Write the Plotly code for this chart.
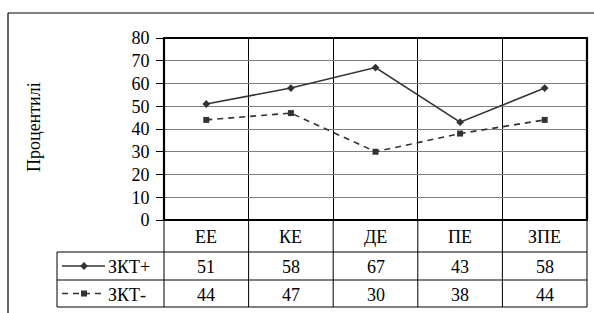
import plotly.graph_objects as go

categories = ["ЕЕ", "КЕ", "ДЕ", "ПЕ", "ЗПЕ"]
series_names = ["ЗКТ+", "ЗКТ-"]
zkt_plus = [51, 58, 67, 43, 58]
zkt_minus = [44, 47, 30, 38, 44]
y_ticks = [0, 10, 20, 30, 40, 50, 60, 70, 80]
y_title = "Процентилі"

W, H = 594, 313
FONT = "'Liberation Serif', 'Times New Roman', serif"
FS = 18
INK = "#333333"

# layout in pixels
PX_L, PX_R, PX_T, PX_B = 164, 587, 38, 220
ROW1, ROW2, ROW3 = 252, 280, 307
LEG_L = 57

def fx(px):
    return px / W

def fy(py):
    return 1 - py / H

xs = list(range(len(categories)))
fig = go.Figure()

styles = [
    dict(dash="solid", symbol="diamond", size=6),
    dict(dash="6px,5px", symbol="square", size=6),
]
for name, vals, st in zip(series_names, [zkt_plus, zkt_minus], styles):
    fig.add_trace(go.Scatter(
        x=xs, y=vals, mode="lines+markers", name=name,
        line=dict(color=INK, width=1.6, dash=st["dash"]),
        marker=dict(symbol=st["symbol"], size=st["size"], color=INK),
        showlegend=False, cliponaxis=False,
    ))

def text(px, py, s, xanchor="center", angle=0):
    fig.add_annotation(x=fx(px), y=fy(py), xref="paper", yref="paper", text=s,
                       showarrow=False, xanchor=xanchor, yanchor="middle", textangle=angle,
                       font=dict(family=FONT, size=FS, color="black"))

# legend keys inside the data table (pixel axes covering whole paper)
for i, (name, st) in enumerate(zip(series_names, styles)):
    yc = (ROW1 + ROW2) / 2 if i == 0 else (ROW2 + ROW3) / 2
    fig.add_trace(go.Scatter(
        x=[62, 84, 105], y=[yc, yc, yc], mode="lines", xaxis="x2", yaxis="y2",
        line=dict(color=INK, width=1.6, dash=st["dash"]), showlegend=False, hoverinfo="skip",
    ))
    fig.add_trace(go.Scatter(
        x=[84], y=[yc], mode="markers", xaxis="x2", yaxis="y2",
        marker=dict(symbol=st["symbol"], size=st["size"], color=INK), showlegend=False, hoverinfo="skip",
    ))
    text(106, yc + 1, name, xanchor="left")

n = len(categories)
boundaries = [i - 0.5 for i in range(n + 1)]

fig.update_layout(
    width=W, height=H, margin=dict(l=0, r=0, t=0, b=0, pad=0),
    paper_bgcolor="white", plot_bgcolor="rgba(0,0,0,0)",
    font=dict(family=FONT, size=FS, color="black"),
    xaxis=dict(domain=[fx(PX_L), fx(PX_R)], range=[-0.5, n - 0.5],
               tickvals=boundaries, ticktext=[""] * (n + 1), ticks="",
               showgrid=True, gridcolor="black", gridwidth=1, automargin=False,
               showline=False, zeroline=False, fixedrange=True, anchor="y"),
    yaxis=dict(domain=[fy(PX_B), fy(PX_T)], range=[0, 80], tickvals=y_ticks,
               ticks="outside", ticklen=7, tickcolor="black", tickwidth=1,
               ticklabelstandoff=3,
               showgrid=True, gridcolor="#7f7f7f", gridwidth=1, automargin=False,
               showline=False, zeroline=False, fixedrange=True, anchor="x",
               tickfont=dict(family=FONT, size=FS, color="black")),
    xaxis2=dict(domain=[0, 1], range=[0, W], visible=False, anchor="y2",
                automargin=False, fixedrange=True),
    yaxis2=dict(domain=[0, 1], range=[H, 0], visible=False, anchor="x2",
                automargin=False, fixedrange=True),
)

shapes = []
def line(x0, y0, x1, y1, w=1, c="black"):
    shapes.append(dict(type="line", xref="paper", yref="paper",
                       x0=fx(x0), y0=fy(y0), x1=fx(x1), y1=fy(y1),
                       line=dict(color=c, width=w)))

# outer chart border
line(8, 13, W + 2, 13, 1.2)
line(8, 13, 8, H + 2, 1.2)
# plot area border
shapes.append(dict(type="rect", xref="paper", yref="paper",
                   x0=fx(PX_L), y0=fy(PX_B), x1=fx(PX_R), y1=fy(PX_T),
                   line=dict(color="black", width=2.2)))
# table horizontal lines
for yy in (ROW1, ROW2, ROW3):
    line(LEG_L, yy, PX_R, yy, 1)
line(LEG_L, ROW1, LEG_L, ROW3, 1)
# table vertical lines
col_w = (PX_R - PX_L) / n
for i in range(n + 1):
    xx = PX_L + i * col_w
    line(xx, PX_B, xx, ROW3, 1)
fig.update_layout(shapes=shapes)

# table text
for i, cat in enumerate(categories):
    cx = PX_L + (i + 0.5) * col_w
    text(cx, (PX_B + ROW1) / 2 + 1, cat)
    text(cx, (ROW1 + ROW2) / 2 + 1, str(zkt_plus[i]))
    text(cx, (ROW2 + ROW3) / 2 + 1, str(zkt_minus[i]))

text(34, 127, y_title, angle=-90)

fig.write_html("out.html", config={"displayModeBar": False},
               post_script="document.body.style.margin='0';")
